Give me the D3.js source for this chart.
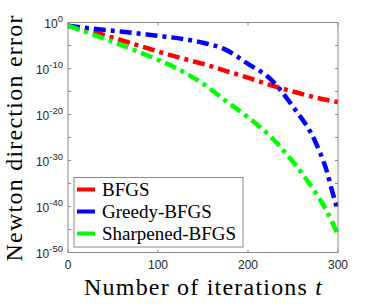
<!DOCTYPE html>
<html>
<head>
<meta charset="utf-8">
<script src="https://cdn.jsdelivr.net/npm/d3@7"></script>
<style>
  body { margin: 0; background: #fff; }
  svg { display: block; }
  .serif { font-family: 'Liberation Serif', 'Times New Roman', serif; }
  .sans { font-family: 'Liberation Sans', Arial, sans-serif; }
</style>
</head>
<body>
<svg id="chart" width="374" height="304"></svg>
<script>
// values, stored as log10 of the error
const bfgsIters = [0, 25, 50, 75, 100, 125, 150, 175, 200, 225, 250, 275, 300];
const bfgsLog10 = [-0.7, -1.9, -3.3, -4.8, -6.3, -7.7, -9.0, -10.5, -12.0, -13.6, -15.0, -16.3, -17.3];

const greedyIters = [0, 25, 50, 75, 100, 125, 150, 175, 200, 225, 250, 275, 287, 295, 300];
const greedyLog10 = [-0.7, -1.3, -1.8, -2.3, -2.9, -3.5, -4.4, -5.9, -9.0, -12.3, -18.3, -26.0, -32.0, -37.7, -41.0];

const sharpIters = [0, 25, 50, 75, 100, 125, 150, 175, 200, 225, 250, 275, 287, 300];
const sharpLog10 = [-0.7, -2.4, -4.2, -6.1, -8.1, -10.4, -13.3, -17.0, -20.6, -24.8, -30.3, -37.0, -40.8, -46.2];

const seriesNames = ['BFGS', 'Greedy-BFGS', 'Sharpened-BFGS'];
const seriesColors = ['#ff0000', '#0000ff', '#00ff00'];

const xTicks = [0, 100, 200, 300];
const yMajorExp = [0, -10, -20, -30, -40, -50];
const yMinorExp = [-5, -15, -25, -35, -45];

const margin = { left: 68, right: 36, top: 22.5, bottom: 51.5 };
const width = 374;
const height = 304;

const svg = d3.select('#chart');

const x = d3.scaleLinear().domain([0, 300]).range([margin.left, width - margin.right]);
const y = d3.scaleLog().domain([1e-50, 1]).range([height - margin.bottom, margin.top]);

const axisColor = '#8a8a8a';
const labelColor = '#262626';

const series = [
  { iters: bfgsIters, vals: bfgsLog10 },
  { iters: greedyIters, vals: greedyLog10 },
  { iters: sharpIters, vals: sharpLog10 },
];

const line = d3.line()
  .x(d => x(d[0]))
  .y(d => y(10 ** d[1]))
  .curve(d3.curveMonotoneX);

const plot = svg.append('g');
series.forEach((s, i) => {
  plot.append('path')
    .datum(s.iters.map((t, k) => [t, s.vals[k]]))
    .attr('fill', 'none')
    .attr('stroke', seriesColors[i])
    .attr('stroke-width', 4.5)
    .attr('stroke-dasharray', '12,5,4,5')
    .attr('d', line);
});

// box with inward ticks on all sides
const x0 = x.range()[0];
const x1 = x.range()[1];
const y0 = y.range()[0];
const y1 = y.range()[1];

svg.append('rect')
  .attr('x', x0).attr('y', y1)
  .attr('width', x1 - x0).attr('height', y0 - y1)
  .attr('fill', 'none')
  .attr('stroke', axisColor)
  .attr('stroke-width', 1);

const ticks = svg.append('g').attr('stroke', axisColor).attr('stroke-width', 1);
xTicks.forEach(t => {
  ticks.append('line').attr('x1', x(t)).attr('x2', x(t)).attr('y1', y0).attr('y2', y0 - 3);
  ticks.append('line').attr('x1', x(t)).attr('x2', x(t)).attr('y1', y1).attr('y2', y1 + 3);
});
yMajorExp.concat(yMinorExp).forEach(e => {
  const yy = y(10 ** e);
  ticks.append('line').attr('x1', x0).attr('x2', x0 + 3).attr('y1', yy).attr('y2', yy);
  ticks.append('line').attr('x1', x1).attr('x2', x1 - 3).attr('y1', yy).attr('y2', yy);
});

// x tick labels
svg.append('g')
  .selectAll('text')
  .data(xTicks)
  .join('text')
  .attr('class', 'sans')
  .attr('x', d => x(d))
  .attr('y', 268.5)
  .attr('text-anchor', 'middle')
  .attr('font-size', 12)
  .attr('fill', labelColor)
  .text(d => d);

// y tick labels: 10 with superscript exponent
const yLabels = svg.append('g')
  .selectAll('text')
  .data(yMajorExp)
  .join('text')
  .attr('class', 'sans')
  .attr('x', 63)
  .attr('y', d => y(10 ** d) + 5)
  .attr('text-anchor', 'end')
  .attr('font-size', 12)
  .attr('fill', labelColor);
yLabels.append('tspan').text('10');
yLabels.append('tspan')
  .attr('dy', -6)
  .attr('font-size', 9.5)
  .text(d => (d === 0 ? '0' : `-${-d}`));

// axis titles
svg.append('text')
  .attr('class', 'serif')
  .attr('x', (x0 + x1) / 2)
  .attr('y', 295)
  .attr('text-anchor', 'middle')
  .attr('font-size', 24)
  .attr('fill', '#000')
  .attr('textLength', 238)
  .attr('lengthAdjust', 'spacing')
  .call(t => {
    t.append('tspan').text('Number of iterations ');
    t.append('tspan').attr('font-style', 'italic').text('t');
  });

svg.append('text')
  .attr('class', 'serif')
  .attr('transform', `translate(22,${(y0 + y1) / 2 + 1}) rotate(-90)`)
  .attr('text-anchor', 'middle')
  .attr('font-size', 24)
  .attr('fill', '#000')
  .attr('textLength', 246)
  .attr('lengthAdjust', 'spacing')
  .text('Newton direction error');

// legend
const legend = svg.append('g');
legend.append('rect')
  .attr('x', 74).attr('y', 177.5)
  .attr('width', 169).attr('height', 69.5)
  .attr('fill', '#fff')
  .attr('stroke', axisColor)
  .attr('stroke-width', 1);

seriesNames.forEach((name, i) => {
  const ly = 189.5 + i * 22;
  legend.append('line')
    .attr('x1', 77).attr('x2', 95)
    .attr('y1', ly).attr('y2', ly)
    .attr('stroke', seriesColors[i])
    .attr('stroke-width', 4);
  legend.append('text')
    .attr('class', 'serif')
    .attr('x', 102)
    .attr('y', ly + 6)
    .attr('font-size', 19)
    .attr('fill', '#000')
    .text(name);
});
</script>
</body>
</html>
